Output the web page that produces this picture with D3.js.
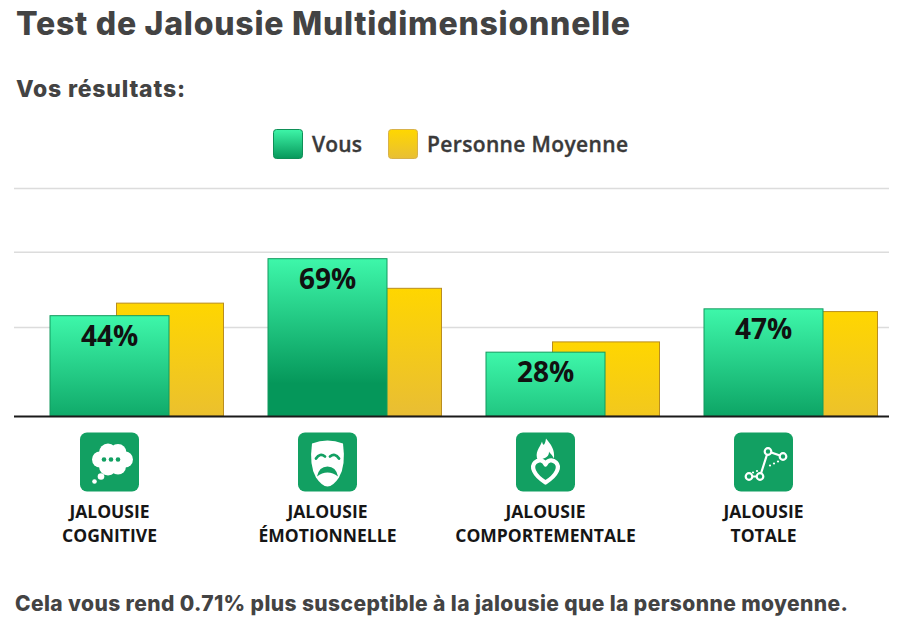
<!DOCTYPE html>
<html>
<head>
    <meta charset="utf-8">
    <title>Test de Jalousie Multidimensionnelle</title>
    <script src="https://cdnjs.cloudflare.com/ajax/libs/d3/7.8.5/d3.min.js"></script>
    <style>
    body{ margin: 0; background: #fff; }
    svg{ display: block; }
    </style>
</head>
<body>
    <svg width="922" height="626"></svg>
    <script>
        // data
        var categories = ["cognitive", "emotionnelle", "comportementale", "totale"];
        var labelLines = [["JALOUSIE", "COGNITIVE"], ["JALOUSIE", "ÉMOTIONNELLE"],
                          ["JALOUSIE", "COMPORTEMENTALE"], ["JALOUSIE", "TOTALE"]];
        var vous = [44, 69, 28, 47];
        var moyenne = [49.5, 56, 32.5, 45.8];
        var gridValues = [39, 72, 100];
        var seriesNames = ["Vous", "Personne Moyenne"];

        var svg = d3.select("svg");
        var defs = svg.append("defs");
        var headFont = "Inter, 'Noto Sans', sans-serif";
        var bodyFont = "'Open Sans', 'Noto Sans', sans-serif";

        var x = d3.scaleBand().domain(categories).range([50, 922]).padding(0);
        var y = d3.scaleLinear().domain([0, 100]).range([416, 188]);
        var greenW = 119, yellowOff = 66.5, yellowW = 107, fadeLen = 125;

        function grad(id, c1, c2, y1, y2, userSpace){
            var g = defs.append("linearGradient").attr("id", id)
                .attr("x1", 0).attr("x2", 0);
            if(userSpace){
                g.attr("gradientUnits", "userSpaceOnUse").attr("y1", y1).attr("y2", y2);
            } else {
                g.attr("y1", 0).attr("y2", 1);
            }
            g.append("stop").attr("offset", 0).attr("stop-color", c1);
            g.append("stop").attr("offset", 1).attr("stop-color", c2);
        }

        // titles
        svg.append("text").attr("x", 16).attr("y", 35)
            .attr("font-family", headFont).attr("font-weight", 800).attr("font-size", 32)
            .attr("fill", "#434343").attr("textLength", 614)
            .text("Test de Jalousie Multidimensionnelle");
        svg.append("text").attr("x", 16).attr("y", 97)
            .attr("font-family", headFont).attr("font-weight", 800).attr("font-size", 23)
            .attr("fill", "#434343").attr("textLength", 169)
            .text("Vos résultats:");

        // legend
        grad("lg0", "#3ef5a8", "#07985b", 0, 0, false);
        grad("lg1", "#ffd700", "#e8bf35", 0, 0, false);
        var legendX = [273.5, 388.5];
        var legend = svg.selectAll("g.legend").data(seriesNames).enter()
            .append("g").attr("class", "legend")
            .attr("transform", function(d, i){ return "translate(" + legendX[i] + ",129.5)"; });
        legend.append("rect").attr("width", 29).attr("height", 29).attr("rx", 3)
            .attr("fill", function(d, i){ return "url(#lg" + i + ")"; })
            .attr("stroke", function(d, i){ return i ? "#d8b24a" : "#0f8f57"; })
            .attr("stroke-width", 1);
        legend.append("text").attr("x", 38.5).attr("y", 22.5)
            .attr("font-family", bodyFont).attr("font-weight", 600).attr("font-size", 21)
            .attr("fill", "#3a3a3a").attr("stroke", "#3a3a3a").attr("stroke-width", 0.35)
            .attr("textLength", function(d, i){ return i ? 201 : 50; })
            .text(function(d){ return d; });

        // grid lines
        svg.append("g").attr("transform", "translate(14,0)")
            .call(d3.axisRight(y).tickValues(gridValues).tickSize(875).tickFormat(""))
            .call(function(g){
                g.select(".domain").remove();
                g.selectAll(".tick line").attr("stroke", "#dcdcdc").attr("stroke-width", 1.5);
            });

        // average bars
        var rows = categories.map(function(c, i){ return {c: c, v: vous[i], m: moyenne[i], lines: labelLines[i]}; });
        rows.forEach(function(d, i){
            grad("gy" + i, "#ffd600", "#e9be33", y(d.m), y(d.m) + fadeLen, true);
            grad("gg" + i, "#3ef7aa", "#05975a", y(d.v), y(d.v) + fadeLen, true);
        });

        svg.selectAll("rect.avg").data(rows).enter().append("rect").attr("class", "avg")
            .attr("x", function(d){ return x(d.c) + yellowOff; })
            .attr("y", function(d){ return y(d.m); })
            .attr("width", yellowW)
            .attr("height", function(d){ return y(0) - y(d.m); })
            .attr("fill", function(d, i){ return "url(#gy" + i + ")"; })
            .attr("stroke", "#b98d1f").attr("stroke-width", 1);

        svg.selectAll("rect.you").data(rows).enter().append("rect").attr("class", "you")
            .attr("x", function(d){ return x(d.c); })
            .attr("y", function(d){ return y(d.v); })
            .attr("width", greenW)
            .attr("height", function(d){ return y(0) - y(d.v); })
            .attr("fill", function(d, i){ return "url(#gg" + i + ")"; })
            .attr("stroke", "#139a5e").attr("stroke-width", 1);

        svg.selectAll("text.val").data(rows).enter().append("text").attr("class", "val")
            .attr("x", function(d){ return x(d.c) + greenW / 2; })
            .attr("y", function(d){ return y(d.v) + 30; })
            .attr("text-anchor", "middle")
            .attr("font-family", bodyFont).attr("font-weight", 700).attr("font-size", 28)
            .attr("fill", "#111")
            .text(function(d){ return d.v + "%"; });

        // baseline
        svg.append("line").attr("x1", 14).attr("x2", 889)
            .attr("y1", y(0) + 0.5).attr("y2", y(0) + 0.5)
            .attr("stroke", "#1a1a1a").attr("stroke-width", 2);

        // icons
        var iconGreen = "#12a062";
        var icons = svg.selectAll("g.icon").data(rows).enter().append("g").attr("class", "icon")
            .attr("transform", function(d){ return "translate(" + (x(d.c) + greenW / 2 - 29.5) + ",432.5)"; });
        icons.append("rect").attr("width", 59).attr("height", 59).attr("rx", 7).attr("fill", iconGreen);

        icons.each(function(d, i){
            var g = d3.select(this);
            if(i === 0){
                var puffs = [[20, 27, 8], [28, 20, 9], [38, 20, 8.5], [45, 27, 8], [38, 34, 8], [28, 34, 9], [30, 27, 10]];
                puffs.forEach(function(p){ g.append("circle").attr("cx", p[0]).attr("cy", p[1]).attr("r", p[2]).attr("fill", "#fff"); });
                [24, 31, 38].forEach(function(cx){ g.append("circle").attr("cx", cx).attr("cy", 27).attr("r", 2.3).attr("fill", iconGreen); });
                g.append("circle").attr("cx", 21).attr("cy", 44).attr("r", 3.3).attr("fill", "#fff");
                g.append("circle").attr("cx", 14.5).attr("cy", 49).attr("r", 2.3).attr("fill", "#fff");
            } else if(i === 1){
                g.append("path").attr("fill", "#fff")
                    .attr("d", "M14,11 Q29.5,5 45,11 Q48,33 41,45 Q35,54 29.5,54 Q24,54 18,45 Q11,33 14,11 Z");
                g.append("path").attr("fill", "none").attr("stroke", iconGreen).attr("stroke-width", 2.8)
                    .attr("stroke-linecap", "round")
                    .attr("d", "M18,26 Q22,20 27,24 M32,24 Q37,20 41,26");
                g.append("path").attr("fill", iconGreen)
                    .attr("d", "M19,44 Q21,34 29.5,34 Q38,34 40,44 Q35,40 29.5,40 Q24,40 19,44 Z");
            } else if(i === 2){
                g.append("path").attr("fill", "#fff")
                    .attr("d", "M22,28 C18,20 24,15 26,9 C27,14 29,13 30,6 C35,12 39,17 38,26 C36,22 34,21 33,19 C33,24 31,25 22,28 Z");
                g.append("path").attr("fill", "none").attr("stroke", "#fff").attr("stroke-width", 4.2)
                    .attr("stroke-linejoin", "round")
                    .attr("d", "M29.5,50 C17,42 15,34 19,30 C23,26 28,28 29.5,32 C31,28 36,26 40,30 C44,34 42,42 29.5,50 Z");
            } else {
                var pts = [[15, 44], [26, 44], [34, 19], [49, 24]];
                g.append("path").attr("fill", "none").attr("stroke", "#fff").attr("stroke-width", 2.2)
                    .attr("d", d3.line()(pts));
                [[19, 40], [23, 38.5], [36, 33], [40, 31], [44, 29]].forEach(function(p){
                    g.append("circle").attr("cx", p[0]).attr("cy", p[1]).attr("r", 1.1).attr("fill", "#fff");
                });
                pts.forEach(function(p){
                    g.append("circle").attr("cx", p[0]).attr("cy", p[1]).attr("r", 3.3)
                        .attr("fill", iconGreen).attr("stroke", "#fff").attr("stroke-width", 2.2);
                });
            }
        });

        // category labels
        var labels = svg.selectAll("text.cat").data(rows).enter().append("text").attr("class", "cat")
            .attr("text-anchor", "middle")
            .attr("font-family", bodyFont).attr("font-weight", 700).attr("font-size", 17.5)
            .attr("fill", "#161616");
        labels.selectAll("tspan").data(function(d){ return d.lines.map(function(t){ return {t: t, c: d.c}; }); })
            .enter().append("tspan")
            .attr("x", function(d){ return x(d.c) + greenW / 2; })
            .attr("y", function(d, j){ return 518 + j * 23.5; })
            .text(function(d){ return d.t; });

        // conclusion
        svg.append("text").attr("x", 15).attr("y", 610.5)
            .attr("font-family", headFont).attr("font-weight", 800).attr("font-size", 21)
            .attr("fill", "#434343").attr("textLength", 833)
            .text("Cela vous rend 0.71% plus susceptible à la jalousie que la personne moyenne.");
    </script>
</body>
</html>
